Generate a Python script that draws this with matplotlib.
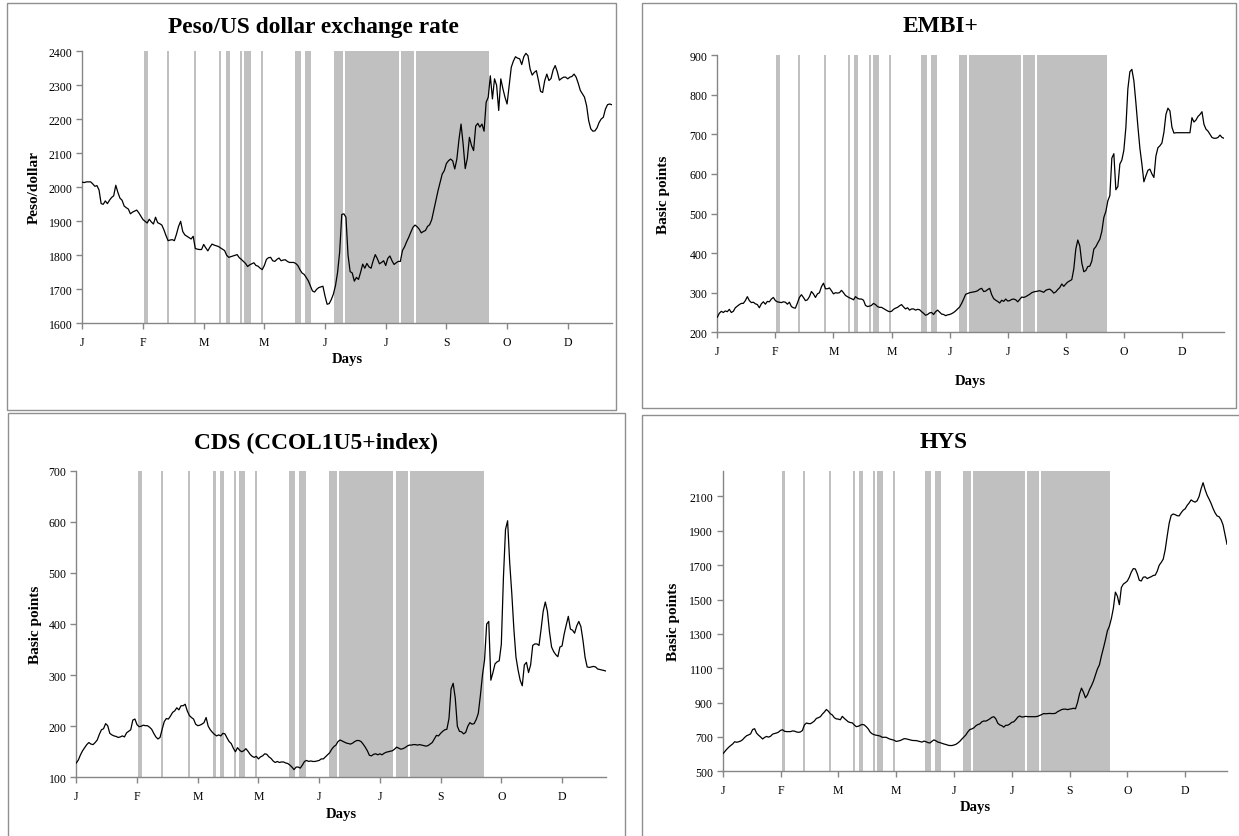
import matplotlib.pyplot as plt
from matplotlib.patches import Rectangle

plt.rcParams['font.family'] = ['Liberation Serif', 'DejaVu Serif']

W, H = 1239, 837

month_labels = ['J', 'F', 'M', 'M', 'J', 'J', 'S', 'O', 'D']
label_every = 29  # trading days between category labels

# trading days flagged with the grey bars
band_days = ([30, 31, 41, 54, 66, 69, 70, 76, 78, 79, 80, 86,
              102, 103, 104, 107, 108, 109]
             + list(range(121, 125)) + list(range(126, 152))
             + list(range(153, 159)) + list(range(160, 195)))

peso = [2015, 2014, 2016, 2016, 2016, 2010, 2003, 2005, 1992, 1952,
        1950, 1960, 1952, 1962, 1970, 1975, 2006, 1985, 1968, 1962,
        1945, 1940, 1936, 1922, 1927, 1930, 1933, 1925, 1915, 1905,
        1900, 1895, 1906, 1898, 1892, 1912, 1896, 1893, 1889, 1875,
        1858, 1843, 1845, 1846, 1843, 1862, 1885, 1900, 1870, 1860,
        1856, 1852, 1848, 1856, 1820, 1818, 1817, 1817, 1832, 1822,
        1813, 1824, 1833, 1830, 1828, 1826, 1822, 1818, 1814, 1800,
        1794, 1796, 1798, 1800, 1802, 1793, 1788, 1782, 1776, 1767,
        1772, 1775, 1778, 1770, 1768, 1762, 1758, 1770, 1788, 1793,
        1794, 1784, 1782, 1788, 1792, 1784, 1786, 1787, 1782, 1779,
        1779, 1779, 1776, 1770, 1758, 1748, 1744, 1735, 1725, 1710,
        1695, 1692, 1700, 1705, 1707, 1709, 1680, 1656, 1658, 1670,
        1686, 1711, 1750, 1810, 1920, 1922, 1912, 1800, 1752, 1748,
        1724, 1735, 1729, 1750, 1774, 1762, 1776, 1766, 1762, 1784,
        1802, 1790, 1775, 1779, 1784, 1770, 1791, 1798, 1784, 1773,
        1778, 1782, 1782, 1814, 1825, 1840, 1853, 1868, 1882, 1889,
        1884, 1877, 1866, 1870, 1873, 1885, 1890, 1905, 1933, 1960,
        1990, 2015, 2039, 2049, 2070, 2078, 2083, 2078, 2054, 2083,
        2140, 2186, 2127, 2055, 2085, 2147, 2123, 2108, 2180, 2188,
        2177, 2186, 2165, 2250, 2265, 2328, 2260, 2319, 2300, 2226,
        2319, 2290, 2265, 2245, 2300, 2353, 2371, 2384, 2380, 2378,
        2361, 2384, 2394, 2387, 2348, 2330, 2338, 2343, 2314, 2282,
        2279, 2314, 2333, 2314, 2320, 2345, 2358, 2340, 2315, 2320,
        2324, 2324, 2319, 2324, 2326, 2333, 2324, 2306, 2285, 2275,
        2265, 2240, 2196, 2172, 2165, 2166, 2175, 2191, 2201, 2206,
        2230, 2243, 2245, 2243]

embi = [238, 248, 253, 250, 254, 252, 258, 250, 253, 262,
        266, 270, 273, 273, 280, 290, 280, 275, 276, 272,
        270, 262, 272, 277, 271, 278, 277, 284, 288, 280,
        277, 276, 275, 277, 276, 271, 276, 265, 262, 261,
        274, 288, 295, 288, 280, 282, 290, 303, 297, 288,
        297, 300, 315, 324, 310, 310, 312, 305, 297, 300,
        299, 300, 306, 300, 293, 290, 287, 285, 282, 290,
        286, 284, 284, 281, 268, 265, 266, 268, 273, 270,
        265, 263, 263, 260, 257, 254, 252, 253, 258, 261,
        263, 267, 270, 264, 259, 262, 256, 259, 259, 256,
        258, 257, 252, 248, 243, 245, 249, 250, 245, 252,
        256, 251, 246, 245, 242, 244, 245, 247, 250, 254,
        259, 264, 273, 284, 296, 298, 300, 301, 302, 303,
        305, 309, 311, 303, 304, 308, 311, 295, 285, 281,
        278, 274, 281, 278, 284, 279, 280, 283, 284, 282,
        277, 283, 289, 288, 290, 293, 296, 300, 302, 303,
        304, 305, 303, 301, 306, 308, 309, 305, 299, 302,
        308, 313, 322, 316, 322, 327, 330, 333, 360, 410,
        433, 418, 375, 353, 356, 366, 367, 380, 410, 416,
        426, 435, 455, 490, 505, 532, 545, 640, 651, 560,
        568, 625, 635, 660, 717, 815, 858, 864, 835, 780,
        720, 665, 625, 580, 595, 609, 612, 600, 591, 645,
        666, 671, 678, 705, 750, 766, 759, 718, 703, 704,
        704, 704, 704, 704, 704, 704, 704, 742, 731, 736,
        745, 750, 757, 725, 713, 708, 700, 692, 690, 690,
        692, 698, 692, 690]

cds = [128, 134, 144, 152, 158, 164, 168, 165, 164, 168,
       173, 184, 193, 195, 205, 201, 186, 183, 181, 180,
       178, 179, 181, 179, 187, 190, 193, 212, 214, 203,
       199, 200, 202, 201, 201, 198, 194, 186, 179, 175,
       178, 194, 209, 215, 214, 220, 227, 230, 236, 232,
       240, 240, 243, 230, 221, 217, 214, 204, 201, 202,
       204, 207, 217, 200, 193, 188, 184, 181, 183, 181,
       186, 185, 177, 170, 166, 157, 150, 158, 153, 150,
       152, 156, 151, 145, 141, 139, 141, 136, 140, 142,
       146, 145, 140, 137, 132, 129, 131, 129, 130, 130,
       128, 127, 124, 120, 115, 120, 120, 118, 124, 131,
       133, 131, 132, 131, 131, 132, 133, 136, 136, 140,
       144, 148, 155, 160, 163, 170, 173, 171, 169, 167,
       166, 165, 167, 170, 172, 172, 170, 165, 159, 152,
       143, 142, 145, 146, 144, 146, 144, 147, 149, 150,
       151, 152, 155, 159, 157, 155, 156, 158, 161, 163,
       163, 164, 164, 163, 164, 163, 162, 161, 162, 165,
       168, 175, 182, 181, 186, 190, 193, 194, 215, 273,
       284, 255, 200, 190, 189, 185, 188, 200, 207, 204,
       205, 213, 225, 260, 300, 330, 400, 405, 290, 305,
       322, 326, 328, 360, 490, 585, 602, 520, 460, 390,
       335, 310, 290, 279, 320, 325, 305, 320, 358, 361,
       361, 358, 390, 425, 443, 425, 385, 355, 346, 340,
       336, 355, 357, 380, 398, 415, 390, 388, 382, 396,
       405, 395, 368, 335, 316, 315, 316, 317, 316, 312,
       311, 310, 309, 308]

hys = [601, 614, 628, 640, 650, 659, 672, 669, 672, 676,
       684, 697, 707, 712, 718, 743, 748, 722, 710, 700,
       688, 697, 703, 699, 704, 716, 720, 723, 728, 738,
       742, 733, 731, 731, 731, 735, 734, 729, 727, 729,
       738, 770, 781, 778, 777, 784, 793, 808, 812, 818,
       833, 845, 860, 850, 835, 828, 812, 805, 804, 800,
       820, 808, 798, 788, 784, 782, 770, 760, 762, 768,
       773, 770, 760, 747, 728, 718, 713, 710, 708, 705,
       698, 698, 698, 692, 687, 684, 681, 674, 676, 679,
       684, 690, 689, 686, 683, 680, 679, 679, 676, 673,
       670, 676, 672, 667, 665, 675, 683, 677, 670, 667,
       663, 659, 656, 652, 650, 650, 653, 657, 665, 675,
       688, 700, 712, 730, 743, 747, 753, 765, 772, 776,
       788, 793, 792, 798, 805, 814, 818, 806, 780, 770,
       766, 757, 768, 768, 775, 785, 788, 800, 815, 822,
       816, 817, 820, 818, 818, 818, 818, 818, 820, 825,
       830, 836, 835, 836, 837, 836, 836, 838, 847, 853,
       859, 862, 862, 859, 862, 864, 867, 864, 900, 950,
       984, 960, 928, 945, 975, 998, 1025, 1060, 1096, 1120,
       1172, 1217, 1265, 1318, 1345, 1390, 1450, 1543, 1520, 1470,
       1570, 1590, 1598, 1608, 1630, 1660, 1680, 1678, 1650, 1612,
       1608, 1630, 1632, 1622, 1628, 1633, 1640, 1642, 1665, 1700,
       1716, 1735, 1790, 1870, 1945, 1990, 1998, 1994, 1988, 1987,
       2005, 2020, 2028, 2048, 2062, 2080, 2072, 2067, 2075, 2100,
       2145, 2180, 2140, 2108, 2085, 2060, 2030, 2005, 1987, 1982,
       1965, 1935, 1880, 1822]

fig = plt.figure(figsize=(W / 100, H / 100), dpi=100)

AXIS_GREY = '#868686'
BAND_GREY = '#c0c0c0'


def frame(left, top, right, bottom):
    fig.patches.append(Rectangle((left / W, 1 - bottom / H), (right - left) / W,
                                 (bottom - top) / H, transform=fig.transFigure,
                                 fill=False, edgecolor='#8f8f8f', linewidth=1.0))


def panel(box, series, ylim, ystep, title, title_xy, ylabel, ylabel_xy, xlabel_y):
    left, top, right, bottom = box
    ax = fig.add_axes([left / W, 1 - bottom / H, (right - left) / W, (bottom - top) / H])
    lo, hi = ylim
    ax.bar(band_days, hi - lo, bottom=lo, width=1.0, color=BAND_GREY,
           linewidth=0, antialiased=False, zorder=1)
    ax.plot(range(len(series)), series, color='black', linewidth=0.9, zorder=3)
    ax.set_xlim(0, len(series) - 1)
    ax.set_ylim(lo, hi)
    ax.set_xticks(range(0, len(series) - 1, label_every))
    ax.set_xticklabels(month_labels)
    ticks = list(range(lo, hi + 1, ystep))
    ax.set_yticks(ticks)
    for side in ('top', 'right'):
        ax.spines[side].set_visible(False)
    for side in ('left', 'bottom'):
        ax.spines[side].set_color(AXIS_GREY)
        ax.spines[side].set_linewidth(1.0)
    ax.tick_params(direction='out', length=4, width=1.0, color=AXIS_GREY,
                   labelsize=8.5, pad=3)
    ax.tick_params(axis='x', pad=5)

    fig.text(title_xy[0] / W, 1 - title_xy[1] / H, title, ha='center', va='center',
             fontsize=16.8, fontweight='bold')
    fig.text(ylabel_xy[0] / W, 1 - ylabel_xy[1] / H, ylabel, ha='center', va='center',
             rotation=90, fontsize=11, fontweight='bold')
    fig.text((left + right) / 2 / W, 1 - xlabel_y / H, 'Days', ha='center', va='center',
             fontsize=10.5, fontweight='bold')
    return ax


frame(7, 4, 616, 411)
frame(642, 4, 1236, 409)
frame(8, 414, 625, 845)
frame(642, 416, 1245, 845)

panel((82.3, 52.3, 611.7, 324.3), peso, (1600, 2400), 100,
      'Peso/US dollar exchange rate', (313, 27), 'Peso/dollar', (34, 188), 360)
panel((717.3, 56.1, 1224.0, 333.3), embi, (200, 900), 100,
      'EMBI+', (941, 27), 'Basic points', (664, 195), 382)
panel((76.3, 471.7, 606.0, 778.3), cds, (100, 700), 100,
      'CDS (CCOL1U5+index)', (316, 443), 'Basic points', (35, 625), 815)
ax4 = panel((722.7, 471.7, 1227.0, 772.3), hys, (500, 2250), 200,
            'HYS', (944, 443), 'Basic points', (673, 622), 808)
ax4.set_yticks(list(range(500, 2101, 200)))

fig.savefig('out.png', dpi=100)
